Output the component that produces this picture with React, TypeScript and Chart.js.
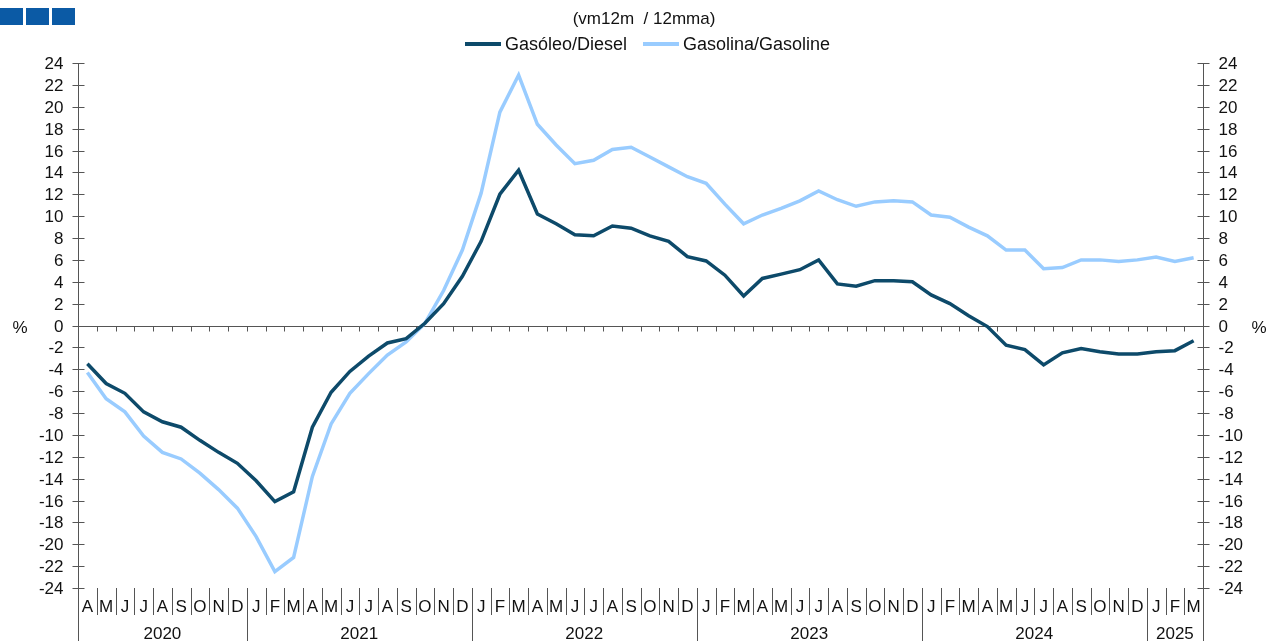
import React, { useEffect, useRef } from "react";
import { Chart, registerables } from "chart.js";

Chart.register(...registerables);

const MONTHS = [
  "A", "M", "J", "J", "A", "S", "O", "N", "D",
  "J", "F", "M", "A", "M", "J", "J", "A", "S", "O", "N", "D",
  "J", "F", "M", "A", "M", "J", "J", "A", "S", "O", "N", "D",
  "J", "F", "M", "A", "M", "J", "J", "A", "S", "O", "N", "D",
  "J", "F", "M", "A", "M", "J", "J", "A", "S", "O", "N", "D",
  "J", "F", "M",
];
const YEARS = ["2020", "2021", "2022", "2023", "2024", "2025"];
const YEAR_SPANS = [9, 12, 12, 12, 12, 3];

const DIESEL = [
  -3.5, -5.3, -6.2, -7.9, -8.8, -9.3, -10.5, -11.6, -12.6, -14.2,
  -16.1, -15.2, -9.3, -6.1, -4.2, -2.8, -1.6, -1.2, 0.2, 2.0,
  4.5, 7.7, 12.0, 14.2, 10.2, 9.3, 8.3, 8.2, 9.1, 8.9,
  8.2, 7.7, 6.3, 5.9, 4.6, 2.7, 4.3, 4.7, 5.1, 6.0,
  3.8, 3.6, 4.1, 4.1, 4.0, 2.8, 2.0, 0.9, -0.1, -1.8,
  -2.2, -3.6, -2.5, -2.1, -2.4, -2.6, -2.6, -2.4, -2.3, -1.4,
];
const GASOLINE = [
  -4.3, -6.7, -7.9, -10.1, -11.6, -12.2, -13.5, -15.0, -16.7, -19.3,
  -22.5, -21.2, -13.8, -9.0, -6.2, -4.4, -2.7, -1.5, 0.2, 3.2,
  6.9, 12.1, 19.5, 22.9, 18.4, 16.5, 14.8, 15.1, 16.1, 16.3,
  15.4, 14.5, 13.6, 13.0, 11.1, 9.3, 10.1, 10.7, 11.4, 12.3,
  11.5, 10.9, 11.3, 11.4, 11.3, 10.1, 9.9, 9.0, 8.2, 6.9,
  6.9, 5.2, 5.3, 6.0, 6.0, 5.85, 6.0, 6.25, 5.85, 6.2,
];
const Y_TICKS = [
  -24, -22, -20, -18, -16, -14, -12, -10, -8, -6, -4, -2, 0,
  2, 4, 6, 8, 10, 12, 14, 16, 18, 20, 22, 24,
];
const SERIES_NAMES = ["Gasóleo/Diesel", "Gasolina/Gasoline"];
const TITLE = "(vm12m  / 12mma)";

const FONT = '"Liberation Sans", Arial, sans-serif';
const DIESEL_COLOR = "#0d4a6a";
const GAS_COLOR = "#99ccff";
const AXIS_COLOR = "#555555";

function line(ctx: CanvasRenderingContext2D, x1: number, y1: number, x2: number, y2: number) {
  ctx.beginPath();
  ctx.moveTo(x1, y1);
  ctx.lineTo(x2, y2);
  ctx.stroke();
}

const axesPlugin = {
  id: "customAxes",
  beforeDatasetsDraw(chart: any) {
    const { ctx, chartArea: a, scales } = chart;
    const xs = scales.x;
    const ys = scales.y;
    const H = chart.height;
    const L = Math.round(a.left) + 0.5;
    const R = Math.round(a.right) + 0.5;
    ctx.save();
    ctx.strokeStyle = AXIS_COLOR;
    ctx.lineWidth = 1;

    line(ctx, L, Math.round(a.top), L, H);
    line(ctx, R, Math.round(a.top), R, H);

    ctx.fillStyle = "#111";
    ctx.font = `17px ${FONT}`;
    ctx.textBaseline = "middle";
    Y_TICKS.forEach((v) => {
      const py = Math.round(ys.getPixelForValue(v)) + 0.5;
      line(ctx, L - 6, py, L + 6, py);
      line(ctx, R - 6, py, R + 6, py);
      ctx.textAlign = "right";
      ctx.fillText(String(v), L - 15, py + 1);
      ctx.textAlign = "left";
      ctx.fillText(String(v), R + 15, py + 1);
    });
    const y0 = Math.round(ys.getPixelForValue(0)) + 0.5;
    ctx.textAlign = "center";
    ctx.fillText("%", 20, y0 + 2);
    ctx.fillText("%", 1259, y0 + 2);

    line(ctx, L, y0, R, y0);

    const n = MONTHS.length;
    const boundary = (i: number) => {
      if (i <= 0) return a.left;
      if (i >= n) return a.right;
      return (xs.getPixelForValue(i - 1) + xs.getPixelForValue(i)) / 2;
    };

    for (let i = 1; i < n; i++) {
      const bx = Math.round(boundary(i)) + 0.5;
      line(ctx, bx, y0, bx, y0 + 5);
      line(ctx, bx, a.bottom, bx, a.bottom + 27);
    }
    let acc = 0;
    YEAR_SPANS.forEach((s) => {
      acc += s;
      if (acc < n) {
        const bx = Math.round(boundary(acc)) + 0.5;
        line(ctx, bx, a.bottom, bx, H);
      }
    });

    ctx.fillStyle = "#111";
    ctx.font = `17px ${FONT}`;
    ctx.textAlign = "center";
    ctx.textBaseline = "middle";
    MONTHS.forEach((m, i) => {
      ctx.fillText(m, xs.getPixelForValue(i), a.bottom + 19);
    });
    acc = 0;
    YEARS.forEach((yr, k) => {
      const start = acc;
      acc += YEAR_SPANS[k];
      const cx = (boundary(start) + boundary(acc)) / 2;
      ctx.fillText(yr, cx, a.bottom + 46);
    });
    ctx.restore();
  },
  afterDraw(chart: any) {
    const { ctx } = chart;
    ctx.save();
    ctx.fillStyle = "#0b5aa5";
    ctx.fillRect(0, 8, 23, 17);
    ctx.fillRect(26, 8, 23, 17);
    ctx.fillRect(52, 8, 23, 17);

    ctx.fillStyle = "#111";
    ctx.font = `17px ${FONT}`;
    ctx.textBaseline = "middle";
    ctx.textAlign = "center";
    ctx.fillText(TITLE, 644, 19);

    const ds = chart.data.datasets;
    const items = [
      { x: 465, label: ds[0].label, color: ds[0].borderColor },
      { x: 643, label: ds[1].label, color: ds[1].borderColor },
    ];
    ctx.textAlign = "left";
    ctx.font = `18px ${FONT}`;
    items.forEach((it) => {
      ctx.strokeStyle = it.color;
      ctx.lineWidth = 4;
      line(ctx, it.x, 44, it.x + 36, 44);
      ctx.fillText(it.label, it.x + 40, 45);
    });
    ctx.restore();
  },
};

export default function App() {
  const ref = useRef<HTMLCanvasElement | null>(null);
  useEffect(() => {
    document.body.style.margin = "0";
    if (!ref.current) return;
    const chart = new Chart(ref.current, {
      type: "line",
      data: {
        labels: MONTHS.map((m, i) => `${m}${i}`),
        datasets: [
          {
            label: SERIES_NAMES[0],
            data: DIESEL,
            borderColor: DIESEL_COLOR,
            backgroundColor: DIESEL_COLOR,
            borderWidth: 3.5,
            pointRadius: 0,
            tension: 0,
          },
          {
            label: SERIES_NAMES[1],
            data: GASOLINE,
            borderColor: GAS_COLOR,
            backgroundColor: GAS_COLOR,
            borderWidth: 3.5,
            pointRadius: 0,
            tension: 0,
          },
        ],
      },
      options: {
        responsive: false,
        animation: false,
        devicePixelRatio: 1,
        layout: { padding: { left: 78, right: 66, top: 63, bottom: 53 } },
        plugins: { legend: { display: false }, title: { display: false }, tooltip: { enabled: false } },
        scales: {
          x: { type: "category", offset: true, display: false },
          y: { min: -24, max: 24, display: false },
        },
      },
      plugins: [axesPlugin],
    });
    return () => chart.destroy();
  }, []);
  return (
    <div style={{ position: "absolute", left: 0, top: 0, width: 1269, height: 641, background: "#fff" }}>
      <canvas ref={ref} width={1269} height={641} style={{ width: 1269, height: 641 }} />
    </div>
  );
}
